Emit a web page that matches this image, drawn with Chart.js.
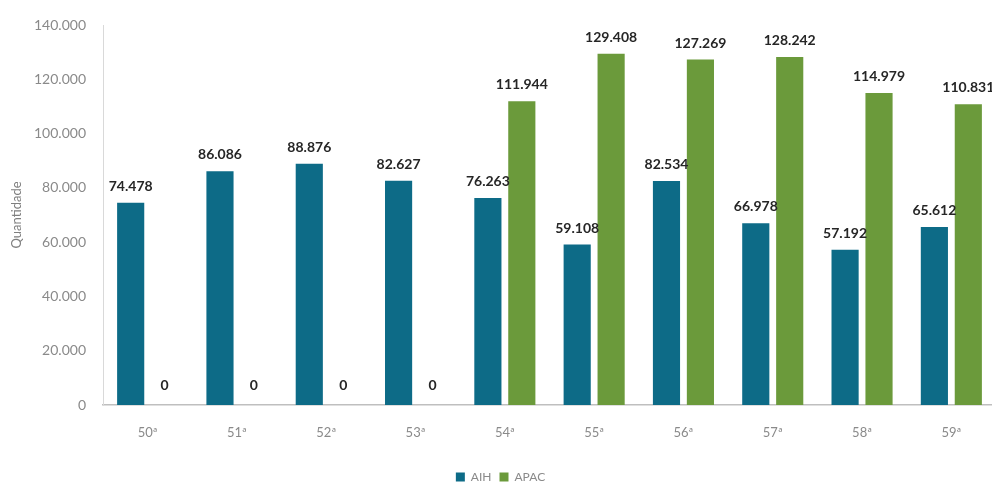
<!DOCTYPE html>
<html>
<head>
<meta charset="utf-8">
<style>
  html, body { margin: 0; padding: 0; background: #fff; overflow: hidden; }
  #wrap { width: 1000px; height: 487px; }
</style>
<script src="https://cdn.jsdelivr.net/npm/chart.js"></script>
</head>
<body>
<div id="wrap"><canvas id="chart"></canvas></div>
<script>
// chart data
const categories = ["50ª", "51ª", "52ª", "53ª", "54ª", "55ª", "56ª", "57ª", "58ª", "59ª"];
const aih = [74478, 86086, 88876, 82627, 76263, 59108, 82534, 66978, 57192, 65612];
const apac = [0, 0, 0, 0, 111944, 129408, 127269, 128242, 114979, 110831];
const yTicks = [0, 20000, 40000, 60000, 80000, 100000, 120000, 140000];

const fmt = v => String(v).replace(/\B(?=(\d{3})+(?!\d))/g, ".");

// value labels drawn per dataset, so later bars cover earlier labels
const barLabels = {
  id: "barLabels",
  afterDatasetDraw(chart, args) {
    const ctx = chart.ctx;
    const values = chart.data.datasets[args.index].data;
    ctx.save();
    ctx.font = "bold 14px Lato";
    ctx.fillStyle = "#262626";
    ctx.textAlign = "center";
    ctx.textBaseline = "alphabetic";
    args.meta.data.forEach((bar, i) => {
      const off = values[i] === 0 ? 15 : 12;
      ctx.fillText(fmt(values[i]), bar.x, bar.y - off);
    });
    ctx.restore();
  }
};

new Chart(document.getElementById("chart"), {
  type: "bar",
  data: {
    labels: categories,
    datasets: [
      { label: "AIH", data: aih, backgroundColor: "#0d6b87" },
      { label: "APAC", data: apac, backgroundColor: "#6b9a3b" }
    ]
  },
  options: {
    responsive: true,
    maintainAspectRatio: false,
    animation: false,
    categoryPercentage: 0.76,
    barPercentage: 0.8,
    layout: { padding: { top: 25, right: 4, left: 5, bottom: -6 } },
    scales: {
      x: {
        grid: { display: false },
        border: { display: true, color: "#bfbfbf", width: 1.5 },
        ticks: { color: "#8a8a8a", font: { family: "Lato", size: 13 }, padding: 12 },
        afterFit: s => { s.height = 58; }
      },
      y: {
        min: 0,
        max: 140000,
        afterBuildTicks: s => { s.ticks = yTicks.map(v => ({ value: v })); },
        grid: { display: false },
        border: { display: true, color: "#d9d9d9" },
        ticks: { color: "#8a8a8a", font: { family: "Lato", size: 14 }, padding: 9, callback: v => fmt(v) },
        title: { display: true, text: "Quantidade", color: "#7f7f7f", font: { family: "Lato", size: 13 } },
        afterFit: s => { s.width = 98; }
      }
    },
    plugins: {
      legend: {
        position: "bottom",
        labels: { color: "#8a8a8a", boxWidth: 9, boxHeight: 9, padding: 8, font: { family: "Lato", size: 12 } }
      },
      tooltip: { enabled: false }
    }
  },
  plugins: [barLabels]
});
</script>
</body>
</html>
